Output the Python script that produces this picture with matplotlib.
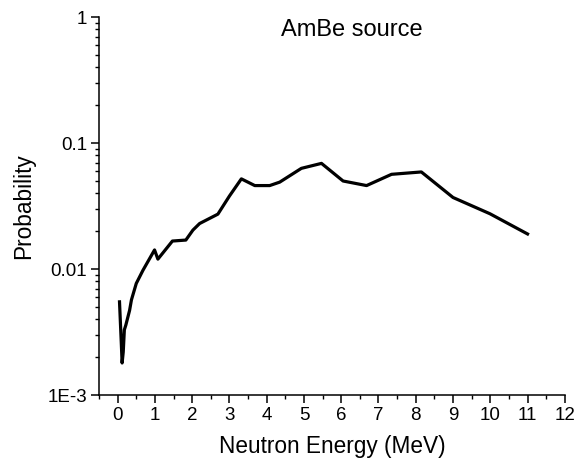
import numpy as np
import matplotlib.pyplot as plt
from matplotlib.ticker import FixedLocator, FixedFormatter, LogLocator, MultipleLocator, NullFormatter

plt.rcParams['font.family'] = ['Liberation Sans', 'DejaVu Sans']

# AmBe neutron spectrum
energy = [0.05, 0.10, 0.12, 0.15, 0.18, 0.22, 0.32, 0.37, 0.50, 0.68, 0.99, 1.08,
          1.47, 1.83, 2.02, 2.20, 2.69, 3.00, 3.32, 3.68, 4.08, 4.35, 4.93, 5.47,
          6.05, 6.68, 7.35, 8.15, 9.00, 9.99, 11.0]
prob = [0.0055, 0.0025, 0.0018, 0.0022, 0.0033, 0.0036, 0.0047, 0.0057, 0.0077, 0.0098,
        0.0142, 0.0120, 0.0167, 0.0170, 0.0204, 0.0230, 0.0273, 0.0380, 0.0520, 0.0460,
        0.0460, 0.0490, 0.0630, 0.0690, 0.0500, 0.0460, 0.0565, 0.0590, 0.0370, 0.0275,
        0.0190]

y_ticks = [1e-3, 1e-2, 1e-1, 1]
y_labels = ['1E-3', '0.01', '0.1', '1']
x_ticks = list(range(0, 13))

fig = plt.figure(figsize=(5.74, 4.66), dpi=100)
ax = fig.add_axes([0.1725, 0.152, 0.8115, 0.8115])

ax.plot(energy, prob, color='black', lw=2.3)

ax.set_yscale('log')
ax.set_ylim(1e-3, 1)
ax.set_xlim(-0.5, 12)
ax.yaxis.set_major_locator(FixedLocator(y_ticks))
ax.yaxis.set_major_formatter(FixedFormatter(y_labels))
ax.yaxis.set_minor_locator(LogLocator(base=10, subs=np.arange(2, 10)))
ax.yaxis.set_minor_formatter(NullFormatter())
ax.set_xticks(x_ticks)
ax.xaxis.set_minor_locator(MultipleLocator(0.5))

for s in ['top', 'right']:
    ax.spines[s].set_visible(False)
for s in ['left', 'bottom']:
    ax.spines[s].set_linewidth(1.1)

ax.tick_params(which='major', direction='out', length=5.5, width=1.1, labelsize=13.5, pad=3)
ax.tick_params(which='minor', direction='out', length=3.2, width=1.0)

ax.set_xlabel('Neutron Energy (MeV)', fontsize=16.3, labelpad=8)
ax.set_ylabel('Probability', fontsize=16.3, labelpad=9)
ax.text(0.543, 0.965, 'AmBe source', transform=ax.transAxes, ha='center', va='center', fontsize=17)

fig.savefig('out.png', dpi=100)
